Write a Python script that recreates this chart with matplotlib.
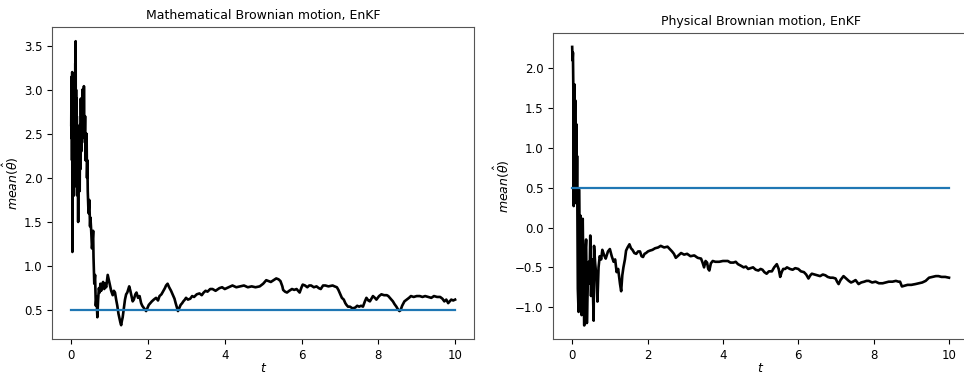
import matplotlib
matplotlib.use("Agg")
import matplotlib.pyplot as plt

# left panel: mathematical Brownian motion
t_math = [0.0, 0.005, 0.01, 0.015, 0.02, 0.025, 0.03, 0.035, 0.04, 0.045,
          0.05, 0.055, 0.06, 0.065, 0.07, 0.075, 0.08, 0.085, 0.09, 0.095,
          0.10, 0.105, 0.11, 0.115, 0.12, 0.125, 0.13, 0.135, 0.14, 0.145,
          0.15, 0.155, 0.16, 0.17, 0.18, 0.19, 0.20, 0.21, 0.22, 0.23,
          0.24, 0.25, 0.26, 0.27, 0.28, 0.29, 0.30, 0.31, 0.32, 0.33,
          0.34, 0.35, 0.36, 0.37, 0.38, 0.39, 0.40, 0.41, 0.42, 0.43,
          0.45, 0.47, 0.49, 0.50, 0.52, 0.54, 0.55, 0.57, 0.58, 0.60,
          0.62, 0.64, 0.66, 0.68, 0.70, 0.72, 0.74, 0.76, 0.78, 0.80,
          0.83, 0.86, 0.88, 0.91, 0.95, 0.98, 1.00, 1.04, 1.08, 1.11,
          1.14, 1.17, 1.20, 1.23, 1.26, 1.28, 1.30, 1.32, 1.34, 1.37,
          1.40, 1.43, 1.46, 1.51, 1.54, 1.57, 1.60, 1.63, 1.67, 1.70,
          1.74, 1.78, 1.82, 1.85, 1.90, 1.95, 1.99, 2.02, 2.06, 2.10,
          2.15, 2.21, 2.26, 2.30, 2.35, 2.40, 2.44, 2.47, 2.51, 2.55,
          2.60, 2.65, 2.69, 2.72, 2.76, 2.78, 2.81, 2.85, 2.89, 2.92,
          2.96, 2.99, 3.04, 3.10, 3.15, 3.20, 3.27, 3.34, 3.40, 3.45,
          3.50, 3.55, 3.62, 3.68, 3.76, 3.86, 3.93, 4.00, 4.10, 4.20,
          4.30, 4.40, 4.50, 4.60, 4.70, 4.80, 4.91, 5.00, 5.04, 5.08,
          5.14, 5.20, 5.27, 5.34, 5.40, 5.45, 5.50, 5.52, 5.57, 5.62,
          5.68, 5.75, 5.81, 5.87, 5.91, 5.95, 6.00, 6.03, 6.09, 6.15,
          6.20, 6.25, 6.32, 6.39, 6.45, 6.50, 6.56, 6.62, 6.70, 6.81,
          6.86, 6.92, 6.96, 7.00, 7.05, 7.10, 7.14, 7.17, 7.21, 7.26,
          7.33, 7.40, 7.45, 7.50, 7.55, 7.60, 7.65, 7.69, 7.74, 7.78,
          7.82, 7.86, 7.91, 7.95, 8.02, 8.08, 8.15, 8.22, 8.26, 8.30,
          8.34, 8.38, 8.42, 8.47, 8.51, 8.55, 8.58, 8.62, 8.68, 8.74,
          8.80, 8.85, 8.92, 9.00, 9.08, 9.15, 9.22, 9.30, 9.38, 9.45,
          9.53, 9.61, 9.67, 9.72, 9.77, 9.82, 9.86, 9.90, 9.95, 10.0]
v_math = [2.60, 3.00, 2.45, 3.15, 2.20, 3.20, 1.16, 2.90, 2.30, 3.05,
          1.90, 2.80, 2.10, 3.10, 1.80, 2.95, 2.20, 3.10, 1.95, 2.90,
          2.25, 3.30, 2.40, 3.55, 2.00, 3.00, 2.30, 2.90, 1.90, 2.70,
          2.05, 2.60, 1.80, 2.50, 1.50, 2.40, 1.95, 2.30, 1.85, 2.60,
          2.10, 2.90, 2.30, 2.75, 2.40, 3.00, 2.55, 2.95, 2.50, 3.04,
          2.60, 2.45, 2.70, 2.20, 2.50, 2.30, 2.50, 2.00, 2.20, 1.85,
          1.60, 1.75, 1.45, 1.55, 1.40, 1.20, 1.25, 1.40, 1.10, 0.80,
          0.90, 0.55, 0.65, 0.42, 0.62, 0.75, 0.70, 0.80, 0.72, 0.78,
          0.82, 0.74, 0.80, 0.76, 0.90, 0.84, 0.80, 0.72, 0.67, 0.72,
          0.70, 0.62, 0.55, 0.46, 0.40, 0.36, 0.33, 0.38, 0.42, 0.52,
          0.62, 0.68, 0.70, 0.77, 0.72, 0.66, 0.60, 0.62, 0.68, 0.70,
          0.64, 0.66, 0.58, 0.55, 0.52, 0.49, 0.53, 0.56, 0.58, 0.60,
          0.62, 0.64, 0.61, 0.66, 0.68, 0.72, 0.75, 0.78, 0.80, 0.76,
          0.72, 0.67, 0.63, 0.58, 0.52, 0.49, 0.52, 0.56, 0.58, 0.60,
          0.62, 0.64, 0.62, 0.63, 0.66, 0.65, 0.68, 0.69, 0.67, 0.70,
          0.72, 0.71, 0.74, 0.74, 0.72, 0.75, 0.76, 0.74, 0.76, 0.78,
          0.76, 0.77, 0.78, 0.76, 0.77, 0.76, 0.77, 0.80, 0.82, 0.84,
          0.83, 0.82, 0.84, 0.86, 0.85, 0.83, 0.77, 0.73, 0.71, 0.70,
          0.72, 0.74, 0.73, 0.74, 0.72, 0.70, 0.76, 0.79, 0.78, 0.76,
          0.78, 0.78, 0.76, 0.77, 0.75, 0.74, 0.78, 0.78, 0.77, 0.78,
          0.77, 0.76, 0.73, 0.69, 0.64, 0.62, 0.58, 0.56, 0.54, 0.54,
          0.52, 0.53, 0.55, 0.54, 0.55, 0.54, 0.60, 0.64, 0.61, 0.60,
          0.63, 0.66, 0.64, 0.62, 0.66, 0.68, 0.67, 0.67, 0.66, 0.64,
          0.62, 0.60, 0.57, 0.54, 0.51, 0.49, 0.50, 0.55, 0.60, 0.62,
          0.64, 0.66, 0.65, 0.66, 0.66, 0.65, 0.66, 0.65, 0.64, 0.66,
          0.65, 0.65, 0.63, 0.60, 0.62, 0.58, 0.60, 0.62, 0.61, 0.62]

# right panel: physical Brownian motion
t_phys = [0.0, 0.01, 0.02, 0.03, 0.035, 0.04, 0.05, 0.06, 0.07, 0.08,
          0.09, 0.10, 0.11, 0.12, 0.13, 0.15, 0.17, 0.18, 0.20, 0.22,
          0.24, 0.25, 0.27, 0.28, 0.30, 0.32, 0.34, 0.37, 0.39, 0.42,
          0.44, 0.46, 0.48, 0.50, 0.53, 0.57, 0.58, 0.61, 0.64, 0.67,
          0.70, 0.73, 0.77, 0.80, 0.85, 0.89, 0.95, 1.00, 1.05, 1.10,
          1.14, 1.18, 1.22, 1.27, 1.30, 1.33, 1.36, 1.40, 1.43, 1.47,
          1.52, 1.56, 1.60, 1.65, 1.70, 1.75, 1.80, 1.84, 1.88, 1.92,
          1.96, 2.01, 2.06, 2.13, 2.20, 2.28, 2.35, 2.44, 2.53, 2.59,
          2.65, 2.70, 2.75, 2.82, 2.89, 2.97, 3.05, 3.14, 3.24, 3.33,
          3.42, 3.46, 3.50, 3.54, 3.58, 3.61, 3.64, 3.68, 3.73, 3.80,
          3.90, 4.00, 4.13, 4.20, 4.28, 4.34, 4.40, 4.48, 4.55, 4.61,
          4.67, 4.74, 4.80, 4.87, 4.94, 5.00, 5.05, 5.10, 5.16, 5.22,
          5.30, 5.36, 5.43, 5.48, 5.52, 5.56, 5.60, 5.65, 5.70, 5.78,
          5.85, 5.92, 6.00, 6.07, 6.15, 6.21, 6.27, 6.32, 6.36, 6.43,
          6.50, 6.58, 6.65, 6.72, 6.78, 6.85, 6.92, 6.99, 7.03, 7.07,
          7.12, 7.20, 7.27, 7.34, 7.40, 7.45, 7.52, 7.60, 7.67, 7.75,
          7.81, 7.87, 7.96, 8.05, 8.14, 8.24, 8.32, 8.40, 8.50, 8.59,
          8.66, 8.70, 8.75, 8.82, 8.90, 9.00, 9.11, 9.20, 9.29, 9.38,
          9.47, 9.56, 9.65, 9.72, 9.80, 9.90, 10.0]
v_phys = [2.27, 2.10, 2.20, 1.77, 1.27, 0.27, 1.50, 1.80, 1.20, 1.60,
          1.00, 0.69, 1.30, 0.30, 0.90, -0.77, -1.06, 0.48, -0.40, 0.15,
          -0.60, -1.10, -0.20, 0.11, -0.70, -1.23, -0.40, -0.15, -1.20, -0.60,
          -0.43, -0.70, -0.10, -0.86, -0.40, -1.17, -0.23, -0.45, -0.60, -0.93,
          -0.50, -0.36, -0.40, -0.28, -0.35, -0.39, -0.30, -0.27, -0.36, -0.43,
          -0.40, -0.56, -0.52, -0.71, -0.80, -0.60, -0.50, -0.40, -0.29, -0.25,
          -0.21, -0.26, -0.28, -0.32, -0.33, -0.30, -0.30, -0.36, -0.37, -0.33,
          -0.32, -0.30, -0.29, -0.28, -0.26, -0.25, -0.23, -0.25, -0.24, -0.27,
          -0.30, -0.33, -0.38, -0.35, -0.32, -0.34, -0.33, -0.36, -0.35, -0.38,
          -0.39, -0.44, -0.50, -0.42, -0.44, -0.52, -0.54, -0.45, -0.42, -0.43,
          -0.43, -0.42, -0.42, -0.44, -0.44, -0.43, -0.46, -0.48, -0.50, -0.49,
          -0.52, -0.51, -0.50, -0.53, -0.54, -0.52, -0.53, -0.56, -0.58, -0.55,
          -0.55, -0.50, -0.46, -0.52, -0.62, -0.56, -0.52, -0.52, -0.50, -0.52,
          -0.53, -0.51, -0.52, -0.55, -0.56, -0.59, -0.64, -0.60, -0.58, -0.59,
          -0.60, -0.61, -0.59, -0.60, -0.62, -0.63, -0.63, -0.64, -0.68, -0.71,
          -0.66, -0.61, -0.64, -0.67, -0.69, -0.68, -0.66, -0.71, -0.69, -0.68,
          -0.67, -0.67, -0.69, -0.68, -0.70, -0.70, -0.69, -0.68, -0.68, -0.67,
          -0.68, -0.68, -0.74, -0.73, -0.72, -0.72, -0.71, -0.70, -0.69, -0.67,
          -0.63, -0.62, -0.61, -0.61, -0.62, -0.62, -0.63]

t_true = [0, 10]
theta_true = [0.5, 0.5]

fig = plt.figure(figsize=(9.64, 3.75), dpi=100)
ax1 = fig.add_axes([0.054, 0.095, 0.438, 0.833])
ax2 = fig.add_axes([0.574, 0.095, 0.43, 0.817])

for ax, t, v, title in [(ax1, t_math, v_math, "Mathematical Brownian motion, EnKF"),
                        (ax2, t_phys, v_phys, "Physical Brownian motion, EnKF")]:
    ax.plot(t, v, color="black", lw=1.9)
    ax.plot(t_true, theta_true, color="#1f77b4", lw=1.6)
    ax.set_title(title, fontsize=9)
    ax.set_xlabel(r"$t$", fontsize=9, labelpad=0)
    ax.set_ylabel(r"$mean(\hat{\theta})$", fontsize=9, labelpad=2)
    ax.tick_params(labelsize=8.5)
    ax.set_xticks([0, 2, 4, 6, 8, 10])
    for s in ax.spines.values():
        s.set_color("#555555")

ax1.set_yticks([0.5, 1.0, 1.5, 2.0, 2.5, 3.0, 3.5])
ax2.set_yticks([-1.0, -0.5, 0.0, 0.5, 1.0, 1.5, 2.0])

plt.savefig("out.png", dpi=100)
plt.close()
